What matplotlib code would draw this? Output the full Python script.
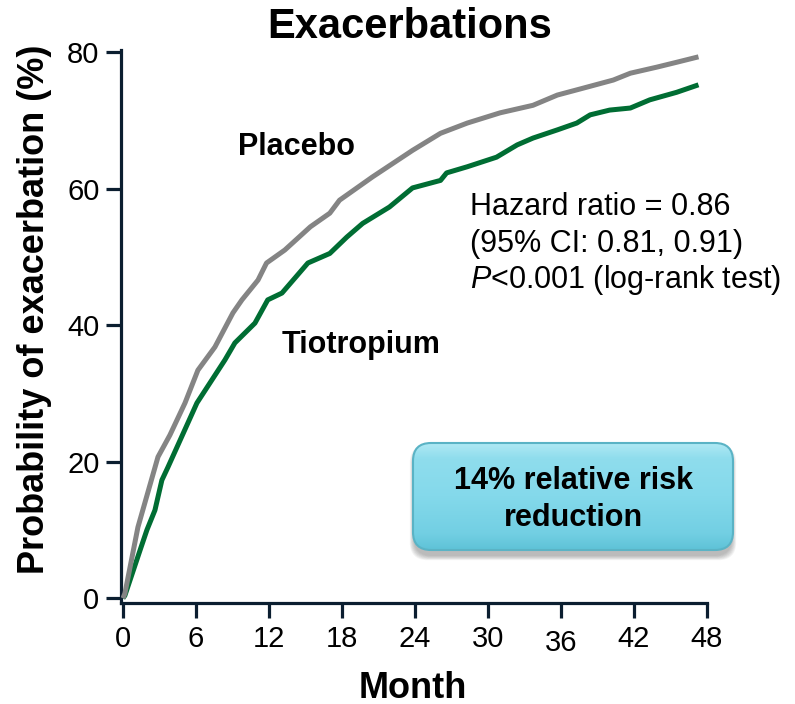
import numpy as np
import matplotlib
matplotlib.use("Agg")
from matplotlib import pyplot as plt
from matplotlib.patches import FancyBboxPatch
from matplotlib.colors import LinearSegmentedColormap
import matplotlib.transforms as mtransforms

plt.rcParams['font.family'] = ['Liberation Sans', 'DejaVu Sans']
plt.rcParams['mathtext.fontset'] = 'custom'
plt.rcParams['mathtext.rm'] = 'Liberation Sans'
plt.rcParams['mathtext.it'] = 'Liberation Sans:italic'

# 累积发生率曲线 (月, %)
placebo_month = [0, 0.16, 1.23, 2.88, 3.86, 5.10, 6.16, 7.56, 9.04, 9.78, 11.1, 11.8,
                 13.3, 15.4, 17.0, 17.8, 20.5, 23.8, 26.1, 28.3, 31.0, 33.7, 35.7,
                 37.8, 40.3, 41.7, 43.9, 45.5, 47.3]
placebo_prob = [0, 0.7, 10.4, 20.7, 23.9, 28.6, 33.4, 36.8, 41.8, 43.7, 46.6, 49.1,
                51.0, 54.4, 56.4, 58.3, 61.7, 65.6, 68.1, 69.6, 71.1, 72.2, 73.7,
                74.7, 75.9, 76.9, 77.8, 78.5, 79.3]

tio_month = [0, 0.16, 1.40, 1.97, 2.63, 3.2, 3.7, 6.08, 8.38, 9.2, 10.85, 11.9, 13.07,
             15.2, 17.0, 18.4, 19.7, 21.9, 23.8, 26.1, 26.6, 28.3, 30.7, 32.4, 33.7,
             35.7, 37.3, 38.4, 40.0, 41.7, 43.3, 45.5, 47.3]
tio_prob = [0, 0.4, 7.0, 10.0, 12.9, 17.3, 19.2, 28.6, 34.9, 37.4, 40.3, 43.7, 44.7,
            49.1, 50.5, 52.9, 54.9, 57.3, 60.1, 61.2, 62.3, 63.2, 64.6, 66.4, 67.4,
            68.6, 69.6, 70.8, 71.5, 71.8, 73.0, 74.1, 75.2]

x_ticks = [0, 6, 12, 18, 24, 30, 36, 42, 48]
y_ticks = [0, 20, 40, 60, 80]

stats_lines = ["Hazard ratio = 0.86", "(95% CI: 0.81, 0.91)", "$P$<0.001 (log-rank test)"]
box_lines = ["14% relative risk", "reduction"]

axis_col = '#0b1e30'

fig = plt.figure(figsize=(7.95, 7.04), dpi=100)
ax = fig.add_axes([121/795, 1-603/704, 586/795, 553/704])

ax.plot(placebo_month, placebo_prob, color='#848484', lw=3.6, solid_capstyle='butt', zorder=3)
ax.plot(tio_month, tio_prob, color='#006d33', lw=3.6, solid_capstyle='butt', zorder=2)

ax.set_xlim(-0.16, 48)
ax.set_ylim(-0.7, 80.3)
ax.set_xticks(x_ticks)
ax.set_yticks(y_ticks)
for s in ['top', 'right']:
    ax.spines[s].set_visible(False)
for s in ['left', 'bottom']:
    ax.spines[s].set_linewidth(2.3)
    ax.spines[s].set_color(axis_col)
ax.tick_params(axis='both', direction='out', length=10.5, width=2.3, color=axis_col,
               labelsize=21, labelcolor='black')
ax.tick_params(axis='x', pad=5)
ax.tick_params(axis='y', pad=5)

# 36 这个刻度标签略低一点
lab36 = ax.get_xticklabels()[6]
lab36.set_transform(lab36.get_transform() +
                    mtransforms.ScaledTranslation(0, -4/100, fig.dpi_scale_trans))

fig.text(410/795, 1-27/704, "Exacerbations", ha='center', va='center',
         fontsize=30, fontweight='bold')
fig.text(35/795, 1-309/704, "Probability of exacerbation (%)", rotation=90,
         ha='center', va='center', fontsize=26, fontweight='bold')
fig.text(413/795, 1-688/704, "Month", ha='center', va='center',
         fontsize=26, fontweight='bold')

ax.text(14.3, 66.1, "Placebo", ha='center', va='center', fontsize=22, fontweight='bold')
ax.text(19.6, 37.1, "Tiotropium", ha='center', va='center', fontsize=22, fontweight='bold')

for i, line in enumerate(stats_lines):
    fig.text(470/795, 1-(207+36.5*i)/704, line, ha='left', va='center', fontsize=22)

# 圆角渐变框 + 阴影
bax = fig.add_axes([403/795, 1-568/704, 342/795, 135/704])
bax.set_xlim(0, 342)
bax.set_ylim(0, 135)
bax.axis('off')
for k in range(8):
    sh = FancyBboxPatch((10 + 1 - k*0.6, 18 - 6 - k*0.6), 320 + k*1.2 - 2, 107 + k*1.2,
                        boxstyle="round,pad=0,rounding_size=18",
                        facecolor='#555555', edgecolor='none', alpha=0.06)
    bax.add_patch(sh)
box = FancyBboxPatch((10, 18), 320, 107, boxstyle="round,pad=0,rounding_size=18",
                     facecolor='none', edgecolor='#5ab3c5', lw=1.5, zorder=3)
bax.add_patch(box)
cmap = LinearSegmentedColormap.from_list(
    'cy', [(0, '#5ec2d7'), (0.15, '#72cfe3'), (0.5, '#84d9eb'), (0.85, '#8fdded'), (1, '#b2eaf5')])
grad = np.linspace(0, 1, 256).reshape(-1, 1)
im = bax.imshow(grad, extent=(10, 330, 18, 125), origin='lower', cmap=cmap,
                aspect='auto', zorder=2)
im.set_clip_path(box)
for i, line in enumerate(box_lines):
    fig.text(573/795, 1-(481+37*i)/704, line, ha='center', va='center',
             fontsize=22, fontweight='bold')

plt.savefig('out.png', dpi=100)
